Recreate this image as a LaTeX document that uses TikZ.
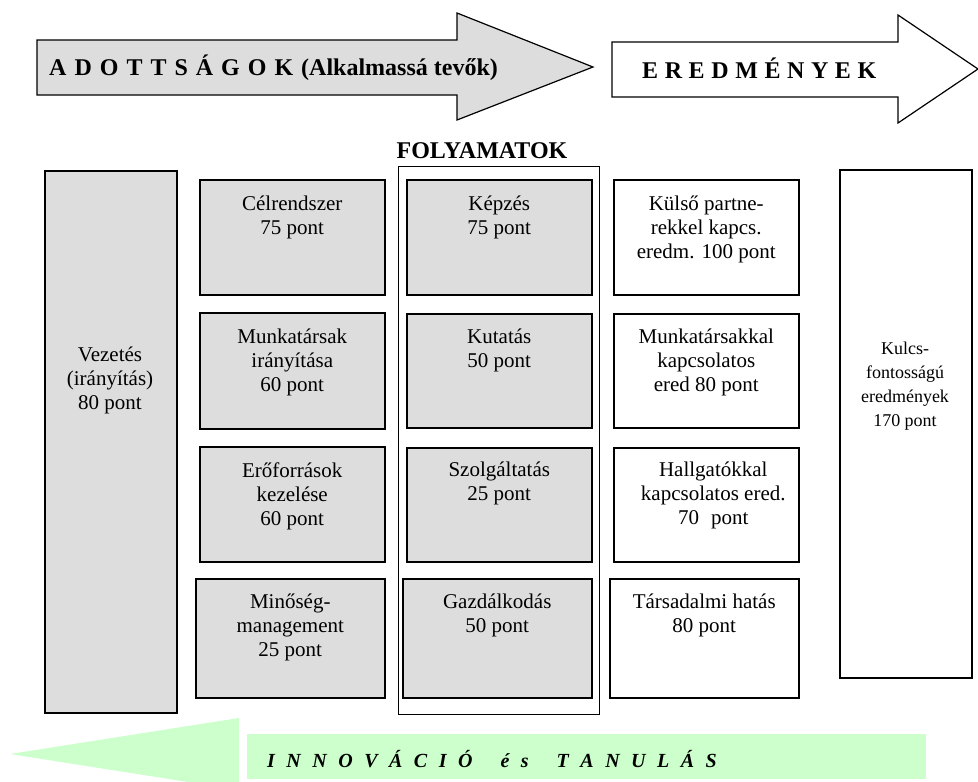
\documentclass[tikz,border=0pt]{standalone}
\usepackage{fontspec}
\setmainfont{Liberation Serif}
\usepackage{tikz}
\usetikzlibrary{positioning}
\definecolor{boxgray}{RGB}{221,221,221}
\definecolor{innovgreen}{RGB}{204,255,204}
\tikzset{
	gbox/.style={draw, line width=1.5pt, fill=boxgray, inner sep=0, anchor=north west},
	wbox/.style={draw, line width=1.5pt, fill=white, inner sep=0, anchor=north west},
	boxtext/.style={align=center, inner sep=0, anchor=base, font=\fontsize{21}{24}\selectfont},
	arrowtext/.style={inner sep=0, anchor=base west, font=\fontsize{24}{28}\selectfont\bfseries}
}
\begin{document}
\begin{tikzpicture}[x=1pt, y=-1pt]
			\useasboundingbox (0,0) rectangle (978,782);
			\draw [line width=1.2pt, fill=boxgray] (37,40) -- (457,40) -- (457,13) -- (593,67) -- (457,120) -- (457,95) -- (37,95) -- cycle;
			\node [arrowtext] (adott) at (49,75) {A\hspace{8pt}D\hspace{8pt}O\hspace{8pt}T\hspace{8pt}T\hspace{8pt}S\hspace{8pt}Á\hspace{8pt}G\hspace{8pt}O\hspace{8pt}K\hspace{8pt}(Alkalmassá tevők)};
			\draw [line width=1.2pt, fill=white] (612,42) -- (898,42) -- (898,15) -- (978,69) -- (898,123) -- (898,97) -- (612,97) -- cycle;
			\node [arrowtext] (eredm) at (642,78) {E\hspace{6.6pt}R\hspace{6.6pt}E\hspace{6.6pt}D\hspace{6.6pt}M\hspace{6.6pt}É\hspace{6.6pt}N\hspace{6.6pt}Y\hspace{6.6pt}E\hspace{6.6pt}K};
			\node [inner sep=0, anchor=base, font=\fontsize{24}{28}\selectfont\bfseries] (folyamtitle) at (482,158) {FOLYAMATOK};
			\node [draw, line width=1.2pt, inner sep=0, anchor=north west, minimum width=201pt, minimum height=548pt] (folyam) at (398,166) {};
			\node [gbox, minimum width=132pt, minimum height=542pt] (vezetes) at (44,170) {};
			\node [boxtext] (vezetestxt) at (110,409) {Vezetés\\(irányítás)\\80 pont};
			\node [gbox, minimum width=185pt, minimum height=115pt] (celr) at (199,179) {};
			\node [boxtext] (celrtxt) at ([yshift=-55pt]celr.north) {Célrendszer\\75 pont};
			\node [gbox, minimum width=185pt, minimum height=116pt] (munkir) at (199,312) {};
			\node [boxtext] (munkirtxt) at ([yshift=-79pt]munkir.north) {Munkatársak\\irányítása\\60 pont};
			\node [gbox, minimum width=185pt, minimum height=115pt] (eroforr) at (199,446) {};
			\node [boxtext] (eroforrtxt) at ([yshift=-79pt]eroforr.north) {Erőforrások\\kezelése\\60 pont};
			\node [gbox, minimum width=189pt, minimum height=119pt] (minoseg) at (195,578) {};
			\node [boxtext] (minosegtxt) at ([yshift=-78pt]minoseg.north) {Minőség-\\management\\25 pont};
			\node [gbox, minimum width=185pt, minimum height=115pt] (kepzes) at (406,179) {};
			\node [boxtext] (kepzestxt) at ([yshift=-55pt]kepzes.north) {Képzés\\75 pont};
			\node [gbox, minimum width=185pt, minimum height=114pt] (kutatas) at (406,313) {};
			\node [boxtext] (kutatastxt) at ([yshift=-54pt]kutatas.north) {Kutatás\\50 pont};
			\node [gbox, minimum width=185pt, minimum height=114pt] (szolg) at (406,447) {};
			\node [boxtext] (szolgtxt) at ([yshift=-53pt]szolg.north) {Szolgáltatás\\25 pont};
			\node [gbox, minimum width=189pt, minimum height=119pt] (gazd) at (402,578) {};
			\node [boxtext] (gazdtxt) at ([yshift=-54pt]gazd.north) {Gazdálkodás\\50 pont};
			\node [wbox, minimum width=185pt, minimum height=115pt] (kulsop) at (613,179) {};
			\node [boxtext] (kulsoptxt) at ([yshift=-79pt]kulsop.north) {Külső partne-\\rekkel kapcs.\\eredm. 100 pont};
			\node [wbox, minimum width=185pt, minimum height=114pt] (munkaer) at (613,313) {};
			\node [boxtext] (munkaertxt) at ([yshift=-78pt]munkaer.north) {Munkatársakkal\\kapcsolatos\\ered 80 pont};
			\node [wbox, minimum width=185pt, minimum height=114pt] (hallg) at (613,447) {};
			\node [boxtext] (hallgtxt) at ([xshift=7pt, yshift=-77pt]hallg.north) {Hallgatókkal\\kapcsolatos ered.\\70\hspace{12pt}pont};
			\node [wbox, minimum width=189pt, minimum height=119pt] (tarsad) at (609,578) {};
			\node [boxtext] (tarsadtxt) at ([yshift=-54pt]tarsad.north) {Társadalmi hatás\\80 pont};
			\node [wbox, minimum width=132pt, minimum height=508pt] (kulcs) at (839,169) {};
			\node [boxtext, font=\fontsize{18}{24}\selectfont] (kulcstxt) at (905,426) {Kulcs-\\fontosságú\\eredmények\\170 pont};
			\fill [innovgreen] (10,754) -- (239,718) -- (239,790) -- cycle;
			\fill [innovgreen] (247,734) rectangle (926,779);
			\node [inner sep=0, anchor=base west, font=\fontsize{20}{24}\selectfont\bfseries\itshape] (innov) at (267,767) {I\hspace{11.5pt}N\hspace{11.5pt}N\hspace{11.5pt}O\hspace{11.5pt}V\hspace{11.5pt}Á\hspace{11.5pt}C\hspace{11.5pt}I\hspace{11.5pt}Ó\hspace{28pt}é\hspace{11.5pt}s\hspace{28pt}T\hspace{11.5pt}A\hspace{11.5pt}N\hspace{11.5pt}U\hspace{11.5pt}L\hspace{11.5pt}Á\hspace{11.5pt}S};
		\end{tikzpicture}
\end{document}
